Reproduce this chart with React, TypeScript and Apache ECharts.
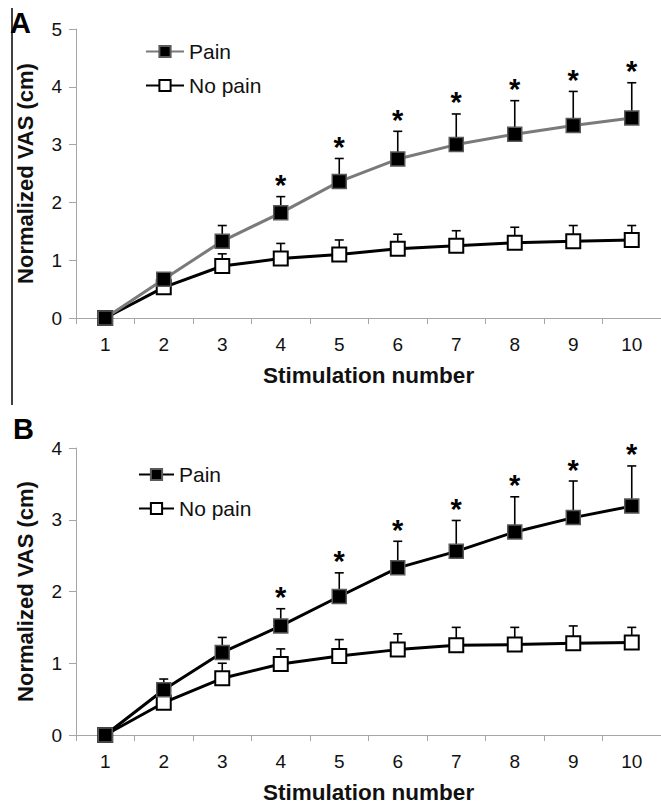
import React, { useEffect, useRef } from "react";
import * as echarts from "echarts";

const categories = ["1", "2", "3", "4", "5", "6", "7", "8", "9", "10"];
const yTicksA = [0, 1, 2, 3, 4, 5];
const yTicksB = [0, 1, 2, 3, 4];

const painA = [0, 0.67, 1.33, 1.82, 2.36, 2.75, 3.0, 3.18, 3.33, 3.46];
const painAErr = [0, 0.05, 0.27, 0.28, 0.4, 0.48, 0.53, 0.58, 0.59, 0.61];
const noPainA = [0, 0.53, 0.9, 1.03, 1.1, 1.2, 1.25, 1.3, 1.33, 1.35];
const noPainAErr = [0, 0.05, 0.21, 0.26, 0.25, 0.25, 0.26, 0.27, 0.27, 0.25];

const painB = [0, 0.63, 1.15, 1.52, 1.93, 2.33, 2.56, 2.83, 3.03, 3.19];
const painBErr = [0, 0.15, 0.21, 0.24, 0.33, 0.37, 0.43, 0.49, 0.51, 0.56];
const noPainB = [0, 0.45, 0.79, 0.99, 1.1, 1.19, 1.25, 1.26, 1.28, 1.29];
const noPainBErr = [0, 0.04, 0.21, 0.21, 0.23, 0.22, 0.25, 0.24, 0.24, 0.21];

const significant = [0, 0, 0, 1, 1, 1, 1, 1, 1, 1];

const FONT = "Liberation Sans, Arial, sans-serif";
const AXIS_GRAY = "#a6a6a6";

function errData(mean: number[], err: number[], sig: number[] | null) {
  return mean.map((m, i) => [i, m, err[i], sig ? sig[i] : 0]);
}

function errSeries(name: string, mean: number[], err: number[], sig: number[] | null, idx: number) {
  return {
    type: "custom",
    name,
    xAxisIndex: idx,
    yAxisIndex: idx,
    z: 1,
    silent: true,
    encode: { x: 0, y: 1 },
    data: errData(mean, err, sig),
    renderItem: (params: any, api: any) => {
      const x = api.value(0);
      const y = api.value(1);
      const e = api.value(2);
      const s = api.value(3);
      const p0 = api.coord([x, y]);
      const p1 = api.coord([x, y + e]);
      const children: any[] = [];
      if (e > 0) {
        children.push({
          type: "line",
          shape: { x1: p0[0], y1: p0[1], x2: p1[0], y2: p1[1] },
          style: { stroke: "#000", lineWidth: 1.6 },
        });
        children.push({
          type: "line",
          shape: { x1: p1[0] - 4.5, y1: p1[1], x2: p1[0] + 4.5, y2: p1[1] },
          style: { stroke: "#000", lineWidth: 1.6 },
        });
      }
      if (s) {
        children.push({
          type: "text",
          x: p1[0],
          y: p1[1] + 3,
          style: {
            text: "*",
            fontSize: 29,
            fontWeight: "bold",
            fontFamily: FONT,
            fill: "#000",
            align: "center",
            verticalAlign: "bottom",
          },
        });
      }
      return { type: "group", children };
    },
  };
}

function lineSeries(name: string, data: number[], idx: number, lineColor: string, filled: boolean) {
  return {
    type: "line",
    name,
    xAxisIndex: idx,
    yAxisIndex: idx,
    z: filled ? 4 : 3,
    data,
    symbol: "rect",
    symbolSize: 14,
    showAllSymbol: true,
    lineStyle: { color: lineColor, width: 3 },
    itemStyle: filled
      ? { color: "#000", borderColor: "#5a5a5a", borderWidth: 1.5 }
      : { color: "#fff", borderColor: "#000", borderWidth: 2 },
    emphasis: { disabled: true },
  };
}

function xAxis(idx: number) {
  return {
    type: "category",
    gridIndex: idx,
    data: categories,
    boundaryGap: true,
    axisLine: { show: true, lineStyle: { color: AXIS_GRAY, width: 1 } },
    axisTick: { show: true, length: 6, lineStyle: { color: AXIS_GRAY } },
    axisLabel: { fontSize: 19, color: "#111", margin: 17, fontFamily: FONT },
    splitLine: { show: false },
    name: "Stimulation number",
    nameLocation: "middle",
    nameGap: 46,
    nameTextStyle: { fontSize: 22.5, fontWeight: "bold", color: "#111", fontFamily: FONT },
  };
}

function yAxis(idx: number, ticks: number[]) {
  return {
    type: "value",
    gridIndex: idx,
    min: ticks[0],
    max: ticks[ticks.length - 1],
    interval: 1,
    axisLine: { show: true, lineStyle: { color: AXIS_GRAY, width: 1 } },
    axisTick: { show: true, length: 7, lineStyle: { color: AXIS_GRAY } },
    axisLabel: { fontSize: 19, color: "#111", margin: 14, fontFamily: FONT },
    splitLine: { show: false },
    name: "Normalized VAS (cm)",
    nameLocation: "middle",
    nameGap: 40,
    nameRotate: 90,
    nameTextStyle: { fontSize: 22, fontWeight: "bold", color: "#111", fontFamily: FONT },
  };
}

function legend(left: number, top: number, itemWidth: number, names: string[]) {
  return {
    orient: "vertical",
    left,
    top,
    itemWidth,
    itemHeight: 14,
    itemGap: 13,
    selectedMode: false,
    data: names,
    formatter: (n: string) => n.split("|")[0],
    textStyle: { fontSize: 21, color: "#111", fontFamily: FONT },
  };
}

export default function App() {
  const ref = useRef<HTMLDivElement>(null);
  useEffect(() => {
    if (!ref.current) return;
    const chart = echarts.init(ref.current, null, { renderer: "svg" });
    chart.setOption({
      animation: false,
      backgroundColor: "#fff",
      grid: [
        { left: 76, top: 29, width: 586, height: 289 },
        { left: 76, top: 448, width: 586, height: 288 },
      ],
      xAxis: [xAxis(0), xAxis(1)],
      yAxis: [yAxis(0, yTicksA), yAxis(1, yTicksB)],
      legend: [
        legend(140, 36, 38, ["Pain|A", "No pain|A"]),
        legend(133, 459, 35, ["Pain|B", "No pain|B"]),
      ],
      graphic: [
        {
          type: "line",
          shape: { x1: 12, y1: 8, x2: 12, y2: 405 },
          style: { stroke: "#000", lineWidth: 1.5 },
        },
        {
          type: "text",
          left: 10,
          top: 8,
          style: { text: "A", fontSize: 29, fontWeight: "bold", fontFamily: FONT, fill: "#000" },
        },
        {
          type: "text",
          left: 13,
          top: 414,
          style: { text: "B", fontSize: 29, fontWeight: "bold", fontFamily: FONT, fill: "#000" },
        },
      ],
      series: [
        errSeries("errPainA", painA, painAErr, significant, 0),
        errSeries("errNoPainA", noPainA, noPainAErr, null, 0),
        lineSeries("Pain|A", painA, 0, "#7a7a7a", true),
        lineSeries("No pain|A", noPainA, 0, "#000", false),
        errSeries("errPainB", painB, painBErr, significant, 1),
        errSeries("errNoPainB", noPainB, noPainBErr, null, 1),
        lineSeries("Pain|B", painB, 1, "#000", true),
        lineSeries("No pain|B", noPainB, 1, "#000", false),
      ],
    });
    return () => chart.dispose();
  }, []);
  return (
    <div
      ref={ref}
      style={{ position: "fixed", left: 0, top: 0, width: 661, height: 805, background: "#fff" }}
    />
  );
}
